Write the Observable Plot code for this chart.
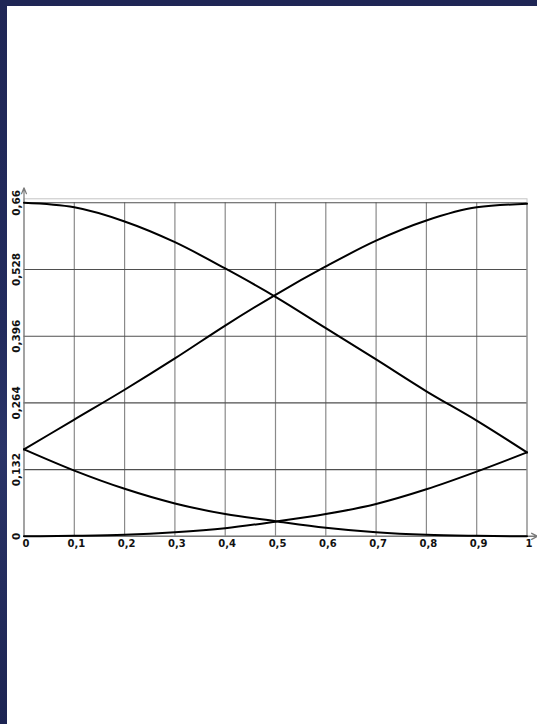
<!DOCTYPE html>
<html>
<head>
<meta charset="utf-8">
<script src="https://cdn.jsdelivr.net/npm/d3@7"></script>
<script src="https://cdn.jsdelivr.net/npm/@observablehq/plot@0.6"></script>
<style>
  html, body { margin: 0; padding: 0; }
  body {
    width: 537px; height: 724px; position: relative; overflow: hidden;
    background: linear-gradient(180deg, #1f2655 0%, #222b5e 45%, #2a3468 62%, #1c2452 100%);
  }
  #panel { position: absolute; left: 7px; top: 6px; right: 0; bottom: 0; background: #ffffff; }
  #chart { position: absolute; left: 0; top: 0; }
</style>
</head>
<body>
<div id="panel"></div>
<div id="chart"></div>
<script>
// Abscissa samples and tick values
const xs = [0, 0.1, 0.2, 0.3, 0.4, 0.5, 0.6, 0.7, 0.8, 0.9, 1];
const xTicks = [0, 0.1, 0.2, 0.3, 0.4, 0.5, 0.6, 0.7, 0.8, 0.9, 1];
const yTicks = [0, 0.132, 0.264, 0.396, 0.528, 0.66];

// Four curves
const curveA = [0.66, 0.651, 0.623, 0.582, 0.530, 0.474, 0.412, 0.350, 0.287, 0.229, 0.166];
const curveB = [0.172, 0.231, 0.290, 0.352, 0.417, 0.478, 0.534, 0.585, 0.625, 0.651, 0.658];
const curveC = [0.172, 0.130, 0.094, 0.065, 0.044, 0.030, 0.017, 0.008, 0.003, 0.001, 0];
const curveD = [0, 0.001, 0.003, 0.008, 0.016, 0.029, 0.044, 0.064, 0.093, 0.128, 0.166];

const series = [
  {name: "A", values: curveA},
  {name: "B", values: curveB},
  {name: "C", values: curveC},
  {name: "D", values: curveD}
];
const rows = series.flatMap(s => s.values.map((v, i) => ({x: xs[i], y: v, s: s.name})));

const fmt = d => String(d).replace(".", ",");
const font = "DejaVu Sans, Verdana, sans-serif";

const chart = Plot.plot({
  width: 537,
  height: 724,
  marginLeft: 23.5,
  marginRight: 10.5,
  marginTop: 202.3,
  marginBottom: 188.2,
  x: {domain: [0, 1], axis: null},
  y: {domain: [0, 0.66], axis: null},
  style: {background: "transparent", overflow: "visible"},
  marks: [
    Plot.frame({stroke: "#c4c4c4", insetTop: -4}),
    Plot.ruleX(xTicks.slice(1), {stroke: "#8a8a8a", strokeWidth: 1.2}),
    Plot.ruleY(yTicks.slice(1), {stroke: "#4f4f4f", strokeWidth: 1.1}),
    // axes with open arrowheads
    Plot.arrow([0], {
      x1: () => 0, y1: () => 0, x2: () => 0, y2: () => 0.66,
      insetEnd: -15, stroke: "#7a7a7a", strokeWidth: 1.2, headLength: 8, headAngle: 45
    }),
    Plot.arrow([0], {
      x1: () => 0, y1: () => 0, x2: () => 1, y2: () => 0,
      insetEnd: -10.5, stroke: "#7a7a7a", strokeWidth: 1.4, headLength: 7, headAngle: 55
    }),
    Plot.line(rows, {x: "x", y: "y", z: "s", stroke: "#000", strokeWidth: 2, curve: "monotone-x"}),
    Plot.text(xTicks, {
      x: d => d, y: () => 0, text: fmt, dy: 7.5, dx: 2,
      fontSize: 10, fontWeight: "bold", fontFamily: font, fill: "#111"
    }),
    Plot.text(yTicks, {
      x: () => 0, y: d => d, text: fmt, rotate: -90, dx: -7,
      fontSize: 10.5, fontWeight: "bold", fontFamily: font, fill: "#111"
    })
  ]
});
document.getElementById("chart").appendChild(chart);
</script>
</body>
</html>
